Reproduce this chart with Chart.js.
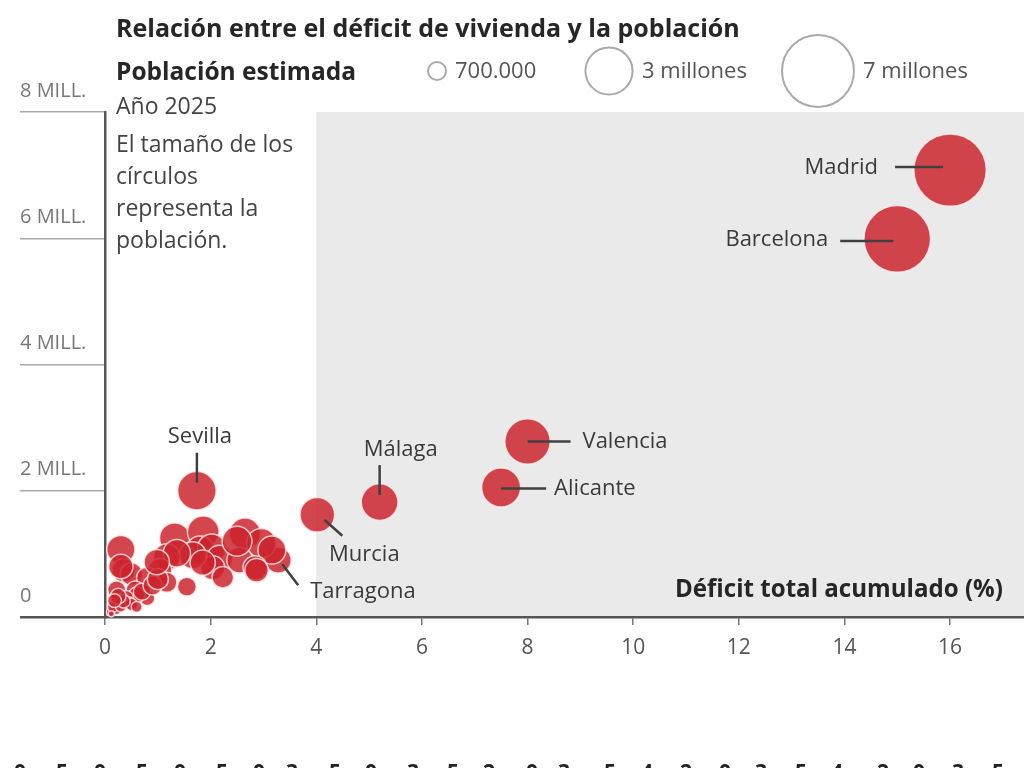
<!DOCTYPE html>
<html lang="es">
<head>
<meta charset="utf-8">
<title>Déficit de vivienda y población</title>
<script src="https://cdn.jsdelivr.net/npm/chart.js@4.4.1/dist/chart.umd.min.js"></script>
<style>
  html, body { margin: 0; padding: 0; background: #fff; }
  #wrap { width: 1024px; height: 768px; }
</style>
</head>
<body>
<div id="wrap"><canvas id="bubbleChart" width="1024" height="768"></canvas></div>
<script>
// Provincias con rótulo; el resto va sin nombre
const provincias = [
  'Madrid', 'Barcelona', 'Valencia', 'Alicante', 'Sevilla', 'Málaga', 'Murcia', 'Tarragona',
  '', '', '', '', '', '', '', '', '', '', '', '', '', '', '', '', '', '', '', '', '', '',
  '', '', '', '', '', '', '', '', '', '', '', '', '', '', '', '', '', '', '', '', '', ''
];
// Déficit total acumulado (%)
const deficit = [
  16.0, 15.0, 8.0, 7.5, 1.74, 5.2, 4.02, 3.28,
  0.30, 1.32, 1.86, 2.65, 2.96, 3.16, 1.80, 2.02, 2.17, 2.04, 2.23, 2.55, 2.84, 1.66,
  1.17, 1.36, 1.85, 2.50, 1.55, 0.35, 0.50, 1.04, 0.80, 1.17, 0.57, 0.22, 0.80, 0.60,
  0.40, 0.45, 0.22, 0.10, 0.15, 0.30, 0.50, 0.35, 0.70, 0.90, 0.12, 0.25, 0.60, 1.00,
  0.30, 0.98, 2.87, 0.18
];
// Población estimada 2025 (millones)
const poblacion = [
  7.08, 5.99, 2.78, 2.05, 2.00, 1.82, 1.62, 0.90,
  1.07, 1.25, 1.35, 1.32, 1.17, 1.06, 1.06, 1.09, 0.93, 0.78, 0.63, 0.90, 0.78, 0.98,
  0.95, 1.01, 0.86, 1.20, 0.48, 0.74, 0.68, 0.74, 0.62, 0.55, 0.43, 0.43, 0.30, 0.35,
  0.30, 0.22, 0.11, 0.08, 0.16, 0.17, 0.20, 0.25, 0.40, 0.50, 0.05, 0.33, 0.16, 0.60,
  0.80, 0.87, 0.74, 0.26
];
const yTicks = [0, 2, 4, 6, 8];
const xTicks = [0, 2, 4, 6, 8, 10, 12, 14, 16];
const leyendaValores = [0.7, 3, 7];
const leyendaTextos = ['700.000', '3 millones', '7 millones'];
const notaLineas = ['Año 2025', 'El tamaño de los', 'círculos', 'representa la', 'población.'];
// Parte superior de la fila de cifras que asoma por abajo
const filaInferior = ['0','5','0','5','0','5','0','3','5','0','3','5','2','0','3','5','4','2','0','3','5','4','2','0','3','5'];

const radio = pob => 13.6 * Math.sqrt(pob);

const FONT = '"Open Sans", "Noto Sans", sans-serif';

function fitText(ctx, text, x, y, maxW, align) {
    const w = ctx.measureText(text).width;
    const s = w > maxW ? maxW / w : 1;
    ctx.save();
    ctx.translate(x, y);
    ctx.scale(s, 1);
    ctx.textAlign = align || 'left';
    ctx.fillText(text, 0, 0);
    ctx.restore();
}

// Posición de cada rótulo respecto al centro de su círculo
const rotulos = {
    'Madrid':    { line: [-55, -3, -7, -3], text: [-72, -2], align: 'right' },
    'Barcelona': { line: [-57, 2, -4, 2],   text: [-69, 1],  align: 'right' },
    'Valencia':  { line: [0, 0, 43, 0],     text: [55, 0],   align: 'left' },
    'Alicante':  { line: [0, 1, 45, 1],     text: [53, 1],   align: 'left' },
    'Málaga':    { line: [0, -37, 0, -7],   text: [21, -52], align: 'center' },
    'Sevilla':   { line: [0, -38, 0, -8],   text: [3, -54],  align: 'center' },
    'Murcia':    { line: [7, 5, 25, 21],    text: [47, 40],  align: 'center' },
    'Tarragona': { line: [4, 4, 20, 25],    text: [32, 32],  align: 'left' }
};

const fondoGris = {
    id: 'fondoGris',
    beforeDraw(chart) {
        const { ctx, chartArea, scales: { x, y } } = chart;
        ctx.save();
        ctx.fillStyle = '#eaeaea';
        const x0 = x.getPixelForValue(4);
        const y0 = y.getPixelForValue(8);
        ctx.fillRect(x0, y0, chartArea.right - x0, y.getPixelForValue(0) - y0);
        ctx.restore();
    }
};

const rotulosPlugin = {
    id: 'rotulos',
    afterDatasetsDraw(chart) {
        const { ctx } = chart;
        const meta = chart.getDatasetMeta(0);
        ctx.save();
        ctx.strokeStyle = '#404040';
        ctx.lineWidth = 2.5;
        ctx.fillStyle = '#3a3a3a';
        ctx.font = '22px ' + FONT;
        ctx.textBaseline = 'middle';
        provincias.forEach((name, i) => {
            const cfg = rotulos[name];
            if (!cfg) return;
            const p = meta.data[i];
            const l = cfg.line;
            ctx.beginPath();
            ctx.moveTo(p.x + l[0], p.y + l[1]);
            ctx.lineTo(p.x + l[2], p.y + l[3]);
            ctx.stroke();
            ctx.textAlign = cfg.align;
            ctx.fillText(name, p.x + cfg.text[0], p.y + cfg.text[1]);
        });
        ctx.restore();
    },
    afterDraw(chart) {
        const { ctx } = chart;
        ctx.save();
        ctx.textBaseline = 'middle';
        ctx.fillStyle = '#262626';
        ctx.font = 'bold 25px ' + FONT;
        fitText(ctx, 'Relación entre el déficit de vivienda y la población', 116, 30, 626);
        fitText(ctx, 'Población estimada', 116, 73, 240);
        ctx.font = 'bold 25px ' + FONT;
        fitText(ctx, 'Déficit total acumulado (%)', 1003, 590, 328, 'right');

        ctx.fillStyle = '#444';
        ctx.font = '23px ' + FONT;
        notaLineas.forEach((t, i) => {
            fitText(ctx, t, 116, i === 0 ? 107 : 113 + i * 32, 184);
        });

        // Leyenda de tamaños
        const cx = [437, 609, 818];
        const tx = [455, 642, 863];
        ctx.strokeStyle = '#aaa';
        ctx.lineWidth = 2;
        ctx.fillStyle = '#555';
        ctx.font = '22px ' + FONT;
        leyendaValores.forEach((v, i) => {
            const r = i === 0 ? 9 : radio(v);
            ctx.beginPath();
            ctx.arc(cx[i], 71, r, 0, Math.PI * 2);
            ctx.stroke();
            fitText(ctx, leyendaTextos[i], tx[i], 72, 112);
        });

        // Cifras cortadas al pie
        const fx = [20, 62, 100, 142, 180, 222, 259, 292, 335, 371, 413, 453, 489, 532, 564, 610, 647, 686, 725, 761, 801, 837, 883, 919, 958, 998];
        ctx.fillStyle = '#222';
        ctx.font = 'bold 21px ' + FONT;
        ctx.textBaseline = 'alphabetic';
        ctx.textAlign = 'center';
        filaInferior.forEach((d, i) => {
            ctx.fillText(d, fx[i], 779);
        });
        ctx.restore();
    }
};

const ctx = document.getElementById('bubbleChart');

new Chart(ctx, {
    type: 'bubble',
    data: {
        datasets: [{
            data: deficit.map((d, i) => ({ x: d, y: poblacion[i] })),
            radius: c => radio(poblacion[c.dataIndex]),
            backgroundColor: 'rgba(204, 34, 44, 0.84)',
            borderColor: 'rgba(255, 238, 238, 0.8)',
            borderWidth: 1.5,
            clip: false
        }]
    },
    options: {
        responsive: false,
        animation: false,
        events: [],
        layout: {
            autoPadding: false,
            padding: { left: 20, top: 112, right: 0, bottom: 0 }
        },
        plugins: {
            legend: { display: false },
            tooltip: { enabled: false }
        },
        scales: {
            x: {
                type: 'linear',
                min: 0,
                max: 17.4,
                afterFit: s => { s.height = 151; s.paddingLeft = 0; s.paddingRight = 0; },
                afterBuildTicks: s => { s.ticks = xTicks.map(v => ({ value: v })); },
                grid: { drawOnChartArea: false, tickLength: 8, color: '#777', lineWidth: 1.5 },
                border: { color: '#555', width: 2.5 },
                ticks: {
                    includeBounds: false,
                    padding: 10,
                    color: '#555',
                    font: { family: FONT, size: 21 }
                }
            },
            y: {
                type: 'linear',
                min: 0,
                max: 8,
                afterFit: s => { s.width = 85; s.paddingTop = 0; s.paddingBottom = 0; },
                afterBuildTicks: s => { s.ticks = yTicks.map(v => ({ value: v })); },
                grid: {
                    drawOnChartArea: false,
                    tickLength: 85,
                    color: c => c.tick && c.tick.value === 0 ? '#555' : '#aaa',
                    lineWidth: c => c.tick && c.tick.value === 0 ? 2.5 : 1.5
                },
                border: { color: '#555', width: 2.5 },
                ticks: {
                    crossAlign: 'far',
                    labelOffset: -21,
                    color: '#777',
                    font: { family: FONT, size: 20 },
                    callback: v => v === 0 ? '0' : v + ' MILL.'
                }
            }
        }
    },
    plugins: [fondoGris, rotulosPlugin]
});
</script>
</body>
</html>
